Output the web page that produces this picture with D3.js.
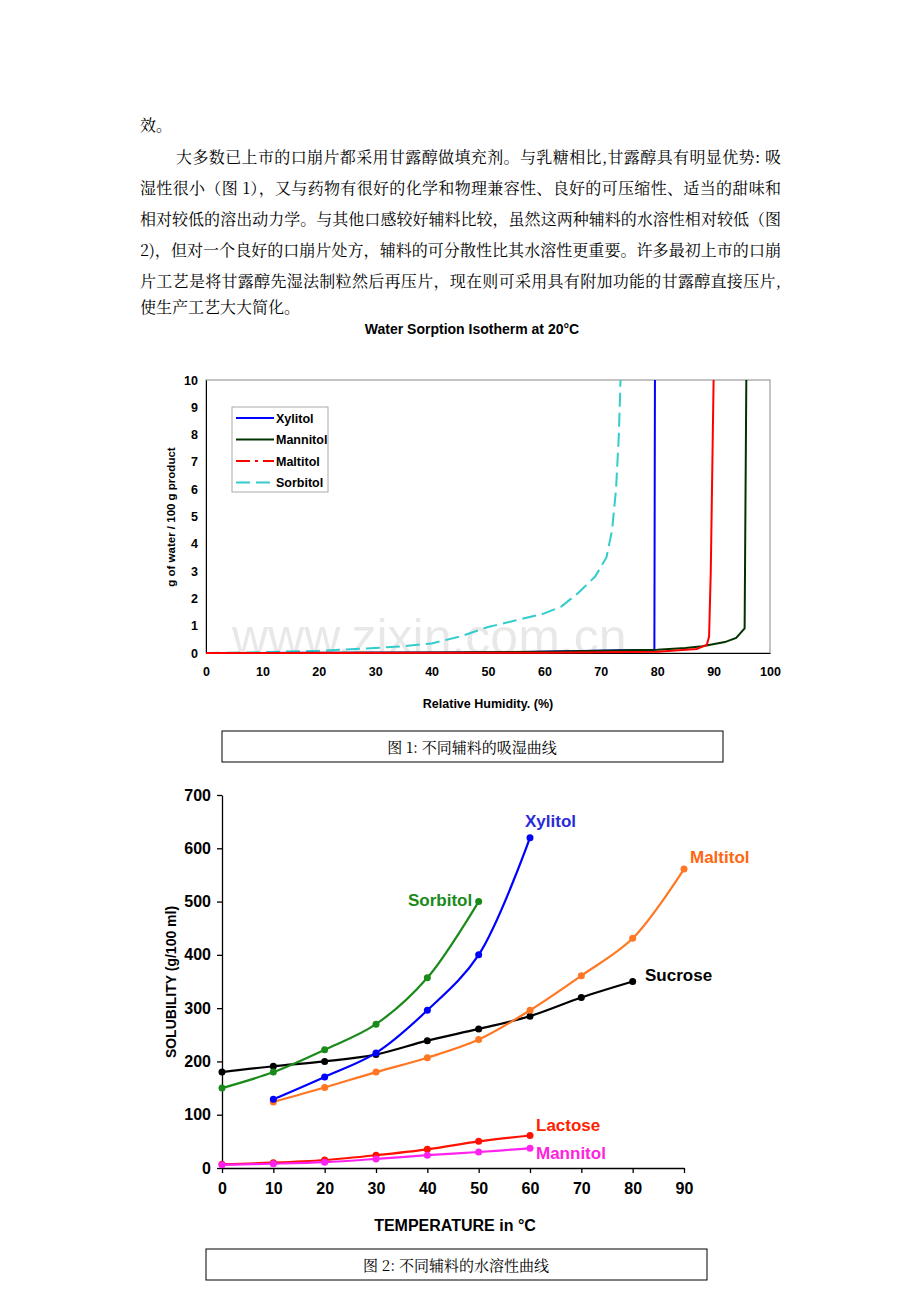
<!DOCTYPE html>
<html><head><meta charset="utf-8">
<script src="https://cdn.jsdelivr.net/npm/d3@7"></script>
<style>body{margin:0;background:#fff}</style>
</head><body>
<svg id="page" width="920" height="1302"></svg>
<script>
// paragraph text
var paraLines = [
	"效。",
	"大多数已上市的口崩片都采用甘露醇做填充剂。与乳糖相比,甘露醇具有明显优势: 吸",
	"湿性很小（图 1），又与药物有很好的化学和物理兼容性、良好的可压缩性、适当的甜味和",
	"相对较低的溶出动力学。与其他口感较好辅料比较，虽然这两种辅料的水溶性相对较低（图",
	"2)，但对一个良好的口崩片处方，辅料的可分散性比其水溶性更重要。许多最初上市的口崩",
	"片工艺是将甘露醇先湿法制粒然后再压片，现在则可采用具有附加功能的甘露醇直接压片,",
	"使生产工艺大大简化。"
];

// chart 1: water sorption isotherm
var rhTicks = [0,10,20,30,40,50,60,70,80,90,100];
var waterTicks = [0,1,2,3,4,5,6,7,8,9,10];
var xylitolSorp = [[0,0],[50,0.02],[79.5,0.12],[79.6,10]];
var mannitolSorp = [[0,0],[40,0.02],[60,0.05],[80,0.12],[85,0.18],[88,0.25],[92,0.4],[94,0.55],[95.5,0.9],[95.8,10]];
var maltitolSorp = [[0,0],[60,0.01],[80,0.05],[87,0.15],[88.8,0.3],[89.2,0.6],[89.5,3],[90,10]];
var sorbitolSorp = [[0,0],[10,0.03],[20,0.08],[30,0.18],[35,0.25],[40,0.35],[45,0.6],[50,0.95],[55,1.2],[60,1.45],[63,1.7],[66,2.2],[69,2.8],[71,3.5],[72,4.5],[72.7,6],[73.2,8],[73.5,10]];

// chart 2: solubility
var tempTicks = [0,10,20,30,40,50,60,70,80,90];
var solTicks = [0,100,200,300,400,500,600,700];
var sucrose = [[0,180],[10,191],[20,200],[30,213],[40,239],[50,261],[60,285],[70,320],[80,350]];
var sorbitol = [[0,150],[10,180],[20,222],[30,270],[40,357],[50,500]];
var xylitol = [[10,129],[20,171],[30,216],[40,296],[50,400],[60,620]];
var maltitol = [[10,124],[20,151],[30,180],[40,207],[50,241],[60,296],[70,361],[80,431],[90,561]];
var lactose = [[0,7],[10,10],[20,15],[30,24],[40,35],[50,50],[60,61]];
var mannitol = [[0,6],[10,8],[20,11],[30,17],[40,24],[50,30],[60,37]];

var svg = d3.select("#page");
var cjk = "'Noto Serif CJK SC','Noto Sans CJK SC',serif";
var arial = "'Liberation Sans Narrow','Liberation Sans',Arial,sans-serif";

// paragraph
var lineY = [131,163,194,225,256,287,313];
paraLines.forEach(function(t, i) {
	var x = (i == 1) ? 176 : 140;
	var txt = svg.append("text").attr("x", x).attr("y", lineY[i])
		.attr("font-family", cjk).attr("font-size", 16).attr("fill", "#000").text(t);
	if (i > 0 && i < 6) txt.attr("textLength", 781 - x).attr("lengthAdjust", "spacing");
});

svg.append("text").attr("x", 472).attr("y", 334).attr("text-anchor", "middle")
	.attr("font-family", arial).attr("font-weight", "bold").attr("font-size", 14)
	.text("Water Sorption Isotherm at 20°C");

// ---- chart 1
var x1 = d3.scaleLinear().domain([0,100]).range([206,770]);
var y1 = d3.scaleLinear().domain([0,10]).range([653,380]);
var g1 = svg.append("g");

// watermark
g1.append("text").attr("x", 232).attr("y", 654).attr("font-family", "'Liberation Sans',Arial,sans-serif").attr("font-size", 50)
	.attr("fill", "#000").attr("fill-opacity", 0.09).text("www.zixin.com.cn");

g1.append("rect").attr("x", 206).attr("y", 380).attr("width", 564).attr("height", 273)
	.attr("fill", "none").attr("stroke", "#888").attr("stroke-width", 1);
g1.append("g").attr("transform", "translate(0,653)")
	.call(d3.axisBottom(x1).tickValues(rhTicks).tickSize(0).tickPadding(14))
	.call(function(a) { a.select(".domain").attr("stroke", "#000"); });
g1.append("g").attr("transform", "translate(206,0)")
	.call(d3.axisLeft(y1).tickValues(waterTicks).tickSize(0).tickPadding(8))
	.call(function(a) { a.select(".domain").attr("stroke", "#000"); });
g1.selectAll(".tick text").attr("font-family", arial).attr("font-weight", "bold").attr("font-size", 12.5).attr("fill", "#000");

var line1 = d3.line().x(function(d) { return x1(d[0]); }).y(function(d) { return y1(d[1]); });
var sorpSeries = [
	{name: "Sorbitol", data: sorbitolSorp, color: "#33cccc", dash: "14,6"},
	{name: "Xylitol", data: xylitolSorp, color: "#0000ff", dash: null},
	{name: "Mannitol", data: mannitolSorp, color: "#003300", dash: null},
	{name: "Maltitol", data: maltitolSorp, color: "#ff0000", dash: null}
];
sorpSeries.forEach(function(s) {
	g1.append("path").attr("d", line1(s.data)).attr("fill", "none")
		.attr("stroke", s.color).attr("stroke-width", 2).attr("stroke-dasharray", s.dash);
});
g1.append("text").attr("transform", "translate(175,517) rotate(-90)").attr("text-anchor", "middle")
	.attr("font-family", "'Liberation Sans',Arial,sans-serif").attr("font-weight", "bold").attr("font-size", 11.5)
	.text("g of water / 100 g product");
g1.append("text").attr("x", 488).attr("y", 708).attr("text-anchor", "middle")
	.attr("font-family", arial).attr("font-weight", "bold").attr("font-size", 12.5)
	.text("Relative Humidity. (%)");

// legend
var legendItems = [
	{name: "Xylitol", color: "#0000ff", dash: null},
	{name: "Mannitol", color: "#003300", dash: null},
	{name: "Maltitol", color: "#ff0000", dash: "14,5,3,5"},
	{name: "Sorbitol", color: "#33cccc", dash: "14,6"}
];
g1.append("rect").attr("x", 232).attr("y", 407).attr("width", 96).attr("height", 85)
	.attr("fill", "#fff").attr("stroke", "#aaa");
legendItems.forEach(function(l, i) {
	var yy = 418 + i * 21.5;
	g1.append("line").attr("x1", 236).attr("x2", 274).attr("y1", yy).attr("y2", yy)
		.attr("stroke", l.color).attr("stroke-width", 2).attr("stroke-dasharray", l.dash);
	g1.append("text").attr("x", 276).attr("y", yy + 4.5).attr("font-family", arial)
		.attr("font-weight", "bold").attr("font-size", 12.5).text(l.name);
});

// caption boxes
function caption(x, y, t) {
	svg.append("rect").attr("x", x).attr("y", y).attr("width", 501).attr("height", 31)
		.attr("fill", "none").attr("stroke", "#000").attr("stroke-width", 1);
	svg.append("text").attr("x", x + 250).attr("y", y + 22).attr("text-anchor", "middle")
		.attr("font-family", cjk).attr("font-size", 15).text(t);
}
caption(222, 731, "图 1:  不同辅料的吸湿曲线");
caption(206, 1249, "图 2:  不同辅料的水溶性曲线");

// ---- chart 2
var x2 = d3.scaleLinear().domain([0,90]).range([222,684]);
var y2 = d3.scaleLinear().domain([0,700]).range([1168,795]);
var g2 = svg.append("g");
g2.append("g").attr("transform", "translate(0,1168)")
	.call(d3.axisBottom(x2).tickValues(tempTicks).tickSize(5).tickPadding(10).tickSizeOuter(0));
g2.append("g").attr("transform", "translate(222,0)")
	.call(d3.axisLeft(y2).tickValues(solTicks).tickSize(5).tickPadding(6).tickSizeOuter(0));
g2.selectAll(".domain, .tick line").attr("stroke", "#000").attr("stroke-width", 1.3);
g2.selectAll(".tick text").attr("font-family", arial).attr("font-weight", "bold").attr("font-size", 16).attr("fill", "#000");

var line2 = d3.line().curve(d3.curveCatmullRom).x(function(d) { return x2(d[0]); }).y(function(d) { return y2(d[1]); });
var solSeries = [
	{name: "Sucrose", data: sucrose, color: "#000000", label: "#000000", lx: 645, ly: 981},
	{name: "Maltitol", data: maltitol, color: "#ff7722", label: "#ff6611", lx: 690, ly: 863},
	{name: "Sorbitol", data: sorbitol, color: "#1a8a1a", label: "#1a8a1a", lx: 408, ly: 906},
	{name: "Xylitol", data: xylitol, color: "#0000ff", label: "#2b2bd9", lx: 525, ly: 827},
	{name: "Lactose", data: lactose, color: "#ff1100", label: "#ff2200", lx: 536, ly: 1131},
	{name: "Mannitol", data: mannitol, color: "#ff22ee", label: "#ff22dd", lx: 536, ly: 1159}
];
solSeries.forEach(function(s) {
	g2.append("path").attr("d", line2(s.data)).attr("fill", "none")
		.attr("stroke", s.color).attr("stroke-width", 2.2);
	g2.selectAll(null).data(s.data).enter().append("circle")
		.attr("cx", function(d) { return x2(d[0]); }).attr("cy", function(d) { return y2(d[1]); })
		.attr("r", 3.5).attr("fill", s.color);
	g2.append("text").attr("x", s.lx).attr("y", s.ly).attr("font-family", arial)
		.attr("font-weight", "bold").attr("font-size", 17).attr("fill", s.label).text(s.name);
});
g2.append("text").attr("transform", "translate(176,982) rotate(-90)").attr("text-anchor", "middle")
	.attr("font-family", "'Liberation Sans',Arial,sans-serif").attr("font-weight", "bold").attr("font-size", 14)
	.text("SOLUBILITY (g/100 ml)");
g2.append("text").attr("x", 455).attr("y", 1231).attr("text-anchor", "middle")
	.attr("font-family", arial).attr("font-weight", "bold").attr("font-size", 16)
	.text("TEMPERATURE in °C");
</script>
</body></html>
